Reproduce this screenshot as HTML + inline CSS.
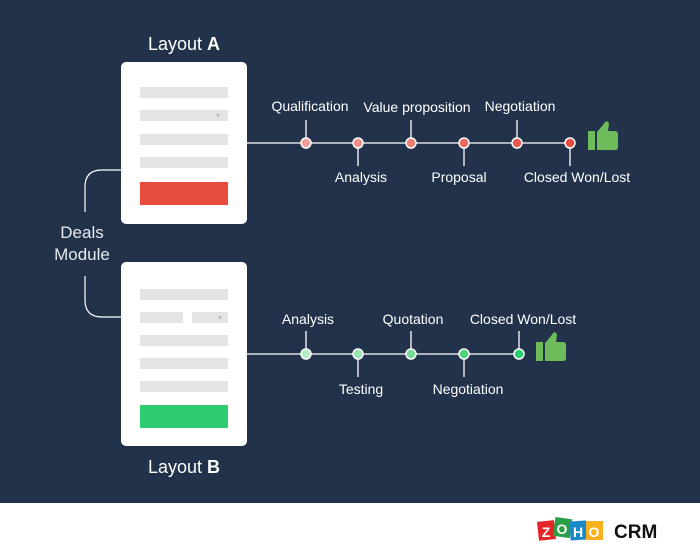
<!DOCTYPE html>
<html><head><meta charset="utf-8"><style>
html,body{margin:0;padding:0;width:700px;height:558px;overflow:hidden;background:#fff}
svg text{font-family:"Liberation Sans",sans-serif}
</style></head><body>
<svg width="700" height="558" xmlns="http://www.w3.org/2000/svg">
<rect x="0" y="0" width="700" height="503" fill="#22324a"/>
<path d="M121 170 H102 Q85 170 85 187 V212" fill="none" stroke="#fff" stroke-width="1.2"/>
<path d="M85 276 V300 Q85 317 102 317 H121" fill="none" stroke="#fff" stroke-width="1.2"/>
<text x="82" y="238" fill="#e6e9ee" font-size="17" text-anchor="middle">Deals</text>
<text x="82" y="260" fill="#e6e9ee" font-size="17" text-anchor="middle">Module</text>
<text x="184" y="50" fill="#fff" font-size="18" text-anchor="middle">Layout <tspan font-weight="bold">A</tspan></text>
<rect x="121" y="62" width="126" height="162" rx="5" fill="#fff"/>
<rect x="140" y="87" width="88" height="11" fill="#e4e4e4"/>
<rect x="140" y="110" width="88" height="11" fill="#e4e4e4"/>
<path d="M216 114.5 h4 l-2 2.5z" fill="#aaa"/>
<rect x="140" y="134" width="88" height="11" fill="#e4e4e4"/>
<rect x="140" y="157" width="88" height="11" fill="#e4e4e4"/>
<rect x="140" y="182" width="88" height="23" fill="#e84c3d"/>
<rect x="121" y="262" width="126" height="184" rx="5" fill="#fff"/>
<rect x="140" y="289" width="88" height="11" fill="#e4e4e4"/>
<rect x="140" y="312" width="43" height="11" fill="#e4e4e4"/>
<rect x="192" y="312" width="36" height="11" fill="#e4e4e4"/>
<path d="M218 316.5 h4 l-2 2.5z" fill="#aaa"/>
<rect x="140" y="335" width="88" height="11" fill="#e4e4e4"/>
<rect x="140" y="358" width="88" height="11" fill="#e4e4e4"/>
<rect x="140" y="381" width="88" height="11" fill="#e4e4e4"/>
<rect x="140" y="405" width="88" height="23" fill="#2ecc71"/>
<text x="184" y="473" fill="#fff" font-size="18" text-anchor="middle">Layout <tspan font-weight="bold">B</tspan></text>
<g stroke="#fff" stroke-width="1.3">
<line x1="247" y1="143" x2="570" y2="143"/>
<line x1="306" y1="120" x2="306" y2="143"/>
<line x1="411" y1="120" x2="411" y2="143"/>
<line x1="517" y1="120" x2="517" y2="143"/>
<line x1="358" y1="143" x2="358" y2="166"/>
<line x1="464" y1="143" x2="464" y2="166"/>
<line x1="570" y1="143" x2="570" y2="166"/>
</g>
<g stroke="#fff" stroke-width="1.5">
<circle cx="306" cy="143" r="5" fill="#f4a09a"/>
<circle cx="358" cy="143" r="5" fill="#f29189"/>
<circle cx="411" cy="143" r="5" fill="#ef7d74"/>
<circle cx="464" cy="143" r="5" fill="#ec6a5f"/>
<circle cx="517" cy="143" r="5" fill="#e9584c"/>
<circle cx="570" cy="143" r="5" fill="#e84c3d"/>
</g>
<g fill="#fff" font-size="14" text-anchor="middle">
<text x="310" y="111">Qualification</text>
<text x="417" y="112">Value proposition</text>
<text x="520" y="111">Negotiation</text>
<text x="361" y="182">Analysis</text>
<text x="459" y="182">Proposal</text>
<text x="577" y="182">Closed Won/Lost</text>
</g>
<g fill="#6dbb5a">
<rect x="588" y="131" width="7" height="19"/>
<path d="M597 132 L603 125 L605 122 Q608 120 609 124 L608 131 H615 Q618 131 618 134 V147 Q618 150 615 150 H597 Z"/>
</g>
<g stroke="#fff" stroke-width="1.3">
<line x1="247" y1="354" x2="519" y2="354"/>
<line x1="306" y1="331" x2="306" y2="354"/>
<line x1="411" y1="331" x2="411" y2="354"/>
<line x1="519" y1="331" x2="519" y2="354"/>
<line x1="358" y1="354" x2="358" y2="377"/>
<line x1="464" y1="354" x2="464" y2="377"/>
</g>
<g stroke="#fff" stroke-width="1.5">
<circle cx="306" cy="354" r="5" fill="#b6ebc7"/>
<circle cx="358" cy="354" r="5" fill="#99e4b0"/>
<circle cx="411" cy="354" r="5" fill="#74da95"/>
<circle cx="464" cy="354" r="5" fill="#4fd27c"/>
<circle cx="519" cy="354" r="5" fill="#2ecc71"/>
</g>
<g fill="#fff" font-size="14" text-anchor="middle">
<text x="308" y="324">Analysis</text>
<text x="413" y="324">Quotation</text>
<text x="523" y="324">Closed Won/Lost</text>
<text x="361" y="394">Testing</text>
<text x="468" y="394">Negotiation</text>
</g>
<g fill="#6dbb5a">
<rect x="536" y="342" width="7" height="19"/>
<path d="M545 343 L551 336 L553 333 Q556 331 557 335 L556 342 H563 Q566 342 566 345 V358 Q566 361 563 361 H545 Z"/>
</g>
<g font-family="Liberation Sans,sans-serif" font-weight="bold" font-size="14" text-anchor="middle">
<rect x="538" y="521" width="17" height="19" fill="#e42527" transform="rotate(-6 546 531)"/>
<text x="546" y="537" fill="#fff">Z</text>
<rect x="554" y="518" width="17" height="19" fill="#2b9e47" transform="rotate(8 562 528)"/>
<text x="562" y="534" fill="#fff">O</text>
<rect x="570" y="521" width="17" height="19" fill="#1b8acb" transform="rotate(-4 578 531)"/>
<text x="578" y="537" fill="#fff">H</text>
<rect x="586" y="521" width="17" height="19" fill="#f9b21d"/>
<text x="594" y="537" fill="#fff">O</text>
</g>
<text x="614" y="538" fill="#111" font-size="19" font-weight="bold">CRM</text>
</svg>
</body></html>
